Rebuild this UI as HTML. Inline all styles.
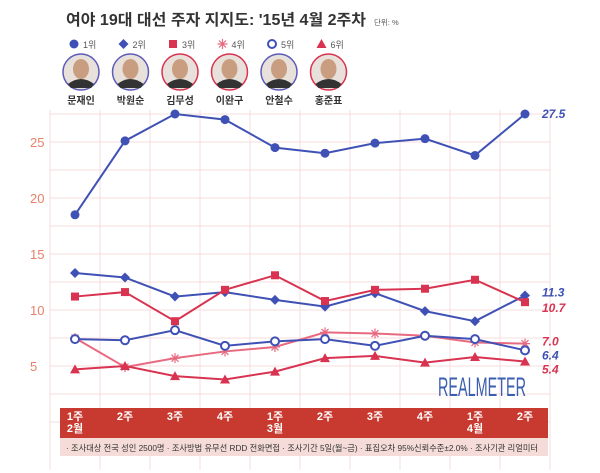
<!DOCTYPE html>
<html><head><meta charset="utf-8"><style>
body{margin:0;background:#fff;}
svg{display:block;font-family:"Liberation Sans","Noto Sans CJK KR",sans-serif;}
</style></head><body>
<svg id="c" width="600" height="473" viewBox="0 0 600 473">
<text x="66" y="25" font-size="15.5" font-weight="bold" fill="#333" textLength="300" lengthAdjust="spacingAndGlyphs">여야 19대 대선 주자 지지도: '15년 4월 2주차</text>
<text x="374" y="25" font-size="7.5" fill="#555">단위: %</text>
<g id="legend"></g>
<g id="grid"></g>
<g id="yaxis"></g>
<g id="series"></g>
<text x="0" y="0" font-size="20" fill="#3a5fb0" textLength="88" lengthAdjust="spacingAndGlyphs" transform="translate(438,396) scale(1,1.35)">REALMETER</text>
<rect x="60" y="408" width="488" height="30" fill="#c8392f"/>
<g id="xaxis"></g>
<rect x="60" y="438" width="488" height="18" fill="#f5dcd8"/>
<text x="66" y="451" font-size="8.5" fill="#333" textLength="472" lengthAdjust="spacingAndGlyphs">· 조사대상 전국 성인 2500명 · 조사방법 유무선 RDD 전화면접 · 조사기간 5일(월~금) · 표집오차 95%신뢰수준±2.0% · 조사기관 리얼미터</text>
</svg>
<script>
const categories=["1주|2월","2주","3주","4주","1주|3월","2주","3주","4주","1주|4월","2주"];
const s1=[18.5,25.1,27.5,27.0,24.5,24.0,24.9,25.3,23.8,27.5];
const s2=[13.3,12.9,11.2,11.6,10.9,10.3,11.5,9.9,9.0,11.3];
const s3=[11.2,11.6,9.0,11.8,13.1,10.8,11.8,11.9,12.7,10.7];
const s4=[7.5,4.9,5.7,6.3,6.7,8.0,7.9,7.7,7.1,7.0];
const s5=[7.4,7.3,8.2,6.8,7.2,7.4,6.8,7.7,7.4,6.4];
const s6=[4.7,5.0,4.1,3.8,4.5,5.7,5.9,5.3,5.8,5.4];
const yTicks=[5,10,15,20,25];
const names=["문재인","박원순","김무성","이완구","안철수","홍준표"];
const ranks=["1위","2위","3위","4위","5위","6위"];
const NS="http://www.w3.org/2000/svg";
const X=i=>75+i*50;
const Y=v=>142+(25-v)*11.2;
function el(t,a,p){const e=document.createElementNS(NS,t);for(const k in a)e.setAttribute(k,a[k]);p.appendChild(e);return e;}
const grid=document.getElementById('grid');
for(let i=0;i<=10;i++){const g=el('line',{x1:50+i*50,x2:50+i*50,y1:110,y2:470,stroke:'#f6dcdc','stroke-width':1},grid);

}
for(let v=0;v<=27.5;v+=2.5){const g=el('line',{x1:50,x2:550,y1:Y(v),y2:Y(v),stroke:'#f6dcdc','stroke-width':1},grid);

}
const ya=document.getElementById('yaxis');
yTicks.forEach(v=>{const t=el('text',{x:30,y:Y(v)+5,'font-size':13,fill:'#e8806a'},ya);t.textContent=v;

});
const series=[
{d:s1,c:'#3f51b5',m:'circle'},{d:s2,c:'#3f51b5',m:'diamond'},{d:s3,c:'#d83350',m:'square'},
{d:s4,c:'#e86a80',m:'star'},{d:s5,c:'#3f51b5',m:'ring'},{d:s6,c:'#d83350',m:'triangle'}];
const sg=document.getElementById('series');
function marker(m,x,y,c,p){
 if(m=='circle')return el('circle',{cx:x,cy:y,r:4.5,fill:c},p);
 if(m=='ring')return el('circle',{cx:x,cy:y,r:4,fill:'#fff',stroke:c,'stroke-width':2},p);
 if(m=='diamond')return el('polygon',{points:`${x},${y-5} ${x+5},${y} ${x},${y+5} ${x-5},${y}`,fill:c},p);
 if(m=='square')return el('rect',{x:x-4,y:y-4,width:8,height:8,fill:c},p);
 if(m=='triangle')return el('polygon',{points:`${x},${y-5} ${x+5},${y+4} ${x-5},${y+4}`,fill:c},p);
 return el('path',{d:`M${x-5} ${y}H${x+5}M${x} ${y-5}V${y+5}M${x-3.5} ${y-3.5}L${x+3.5} ${y+3.5}M${x+3.5} ${y-3.5}L${x-3.5} ${y+3.5}`,stroke:c,'stroke-width':1.2},p);
}
series.forEach((s,k)=>{
 const l=el('polyline',{points:s.d.map((v,i)=>X(i)+','+Y(v)).join(' '),fill:'none',stroke:s.c,'stroke-width':2},sg);
 
 
 s.d.forEach((v,i)=>{const mk=marker(s.m,X(i),Y(v),s.c,sg);
 
 });
});
const endLabels=[[s1,'#3f51b5',0],[s2,'#3f51b5',-3],[s3,'#d83350',6],[s4,'#d83350',-2],[s5,'#3f51b5',5],[s6,'#d83350',8]];
endLabels.forEach((e,k)=>{const v=e[0][e[0].length-1];
 const t=el('text',{x:542,y:Y(v)+4+e[2],'font-size':12,'font-weight':'bold','font-style':'italic',fill:e[1]},sg);t.textContent=v.toFixed(1);
 
 });
const xa=document.getElementById('xaxis');
categories.forEach((c,i)=>{c.split('|').forEach((p,j)=>{const t=el('text',{x:X(i),y:420+j*12,'font-size':11,'font-weight':'bold',fill:'#fff','text-anchor':'middle'},xa);t.textContent=p;
 
 });});
const lg=document.getElementById('legend');
const ring=['#5c5cb8','#5c5cb8','#d83350','#d83350','#5c5cb8','#d83350'];
series.forEach((s,k)=>{const x=74+k*49.5;
 const m=marker(s.m,x,44,s.c,lg);
 
 
 const t=el('text',{x:x+9,y:48,'font-size':9,fill:'#555'},lg);t.textContent=ranks[k];
 
 
 const cx=x+7;
 const c=el('circle',{cx:cx,cy:72,r:18,fill:'#e8e0da',stroke:ring[k],'stroke-width':1.5},lg);
 
 
 const b=el('path',{d:`M${cx-13} ${84} Q${cx} ${74} ${cx+13} ${84} L${cx+10} ${88} L${cx-10} ${88}Z`,fill:'#333'},lg);
 
 
 const f=el('ellipse',{cx:cx,cy:69,rx:8,ry:10,fill:'#c99e80'},lg);
 
 
 const n=el('text',{x:cx,y:104,'font-size':10,'font-weight':'bold',fill:'#333','text-anchor':'middle'},lg);n.textContent=names[k];
 
 
});
</script>
</body></html>
